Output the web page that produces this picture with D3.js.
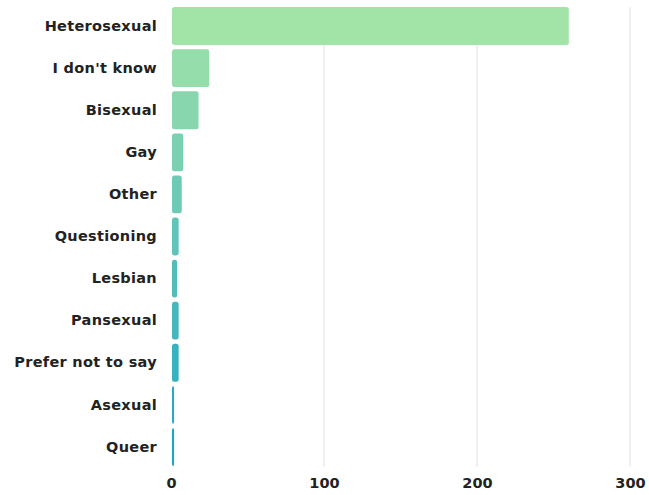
<!DOCTYPE html>
<html><head><meta charset="utf-8">
<script src="https://cdn.jsdelivr.net/npm/d3@7"></script>
<style>
body{margin:0;background:#fff;}
</style></head>
<body><svg id="c" width="649" height="495"></svg>
<script>
const categories = ["Heterosexual","I don't know","Bisexual","Gay","Other","Questioning","Lesbian","Pansexual","Prefer not to say","Asexual","Queer"];
const values = [260,25,18,8,7,5,4,5,5,2,2];
const tickValues = [0,100,200,300];

const svg = d3.select("#c");
const m = {left:171, top:5};
const x = d3.scaleLinear().domain([0,300]).range([m.left, m.left + 459]);
const y = d3.scaleBand().domain(categories).range([m.top, 468]).paddingInner(0.1).paddingOuter(0.05);
const color = d3.scaleLinear().domain([0, categories.length-1]).range(["#a2e3a7","#1ea4c8"]).interpolate(d3.interpolateRgb);
const FONT = '"DejaVu Sans",sans-serif';

svg.append("g").selectAll("line").data(tickValues.slice(1)).join("line")
  .attr("x1", d=>x(d)).attr("x2", d=>x(d))
  .attr("y1", 7).attr("y2", 467)
  .attr("stroke","#ebebeb").attr("stroke-width",1.5);

svg.append("g").selectAll("rect").data(categories).join("rect")
  .attr("x", x(0)+1)
  .attr("y", d=>y(d))
  .attr("width", (d,i)=>Math.max(0, x(values[i]) - x(0) - 1))
  .attr("height", y.bandwidth())
  .attr("rx", 2.5)
  .attr("fill", (d,i)=>color(i));

const yAxis = d3.axisLeft(y).tickSize(0).tickPadding(14);
const gy = svg.append("g").attr("transform",`translate(${x(0)},0)`).call(yAxis);
gy.select(".domain").remove();
gy.selectAll("text").style("font-size","14.5px").style("font-family",FONT).style("font-weight","bold").style("letter-spacing","0.3px").attr("fill","#222");

const xAxis = d3.axisBottom(x).tickValues(tickValues).tickSize(0).tickPadding(0).tickFormat(d3.format("d"));
const gx = svg.append("g").attr("transform",`translate(0,478)`).call(xAxis);
gx.select(".domain").remove();
gx.selectAll("text").style("font-size","14.5px").style("font-family",FONT).style("font-weight","bold").attr("fill","#222");
</script>
</body></html>
